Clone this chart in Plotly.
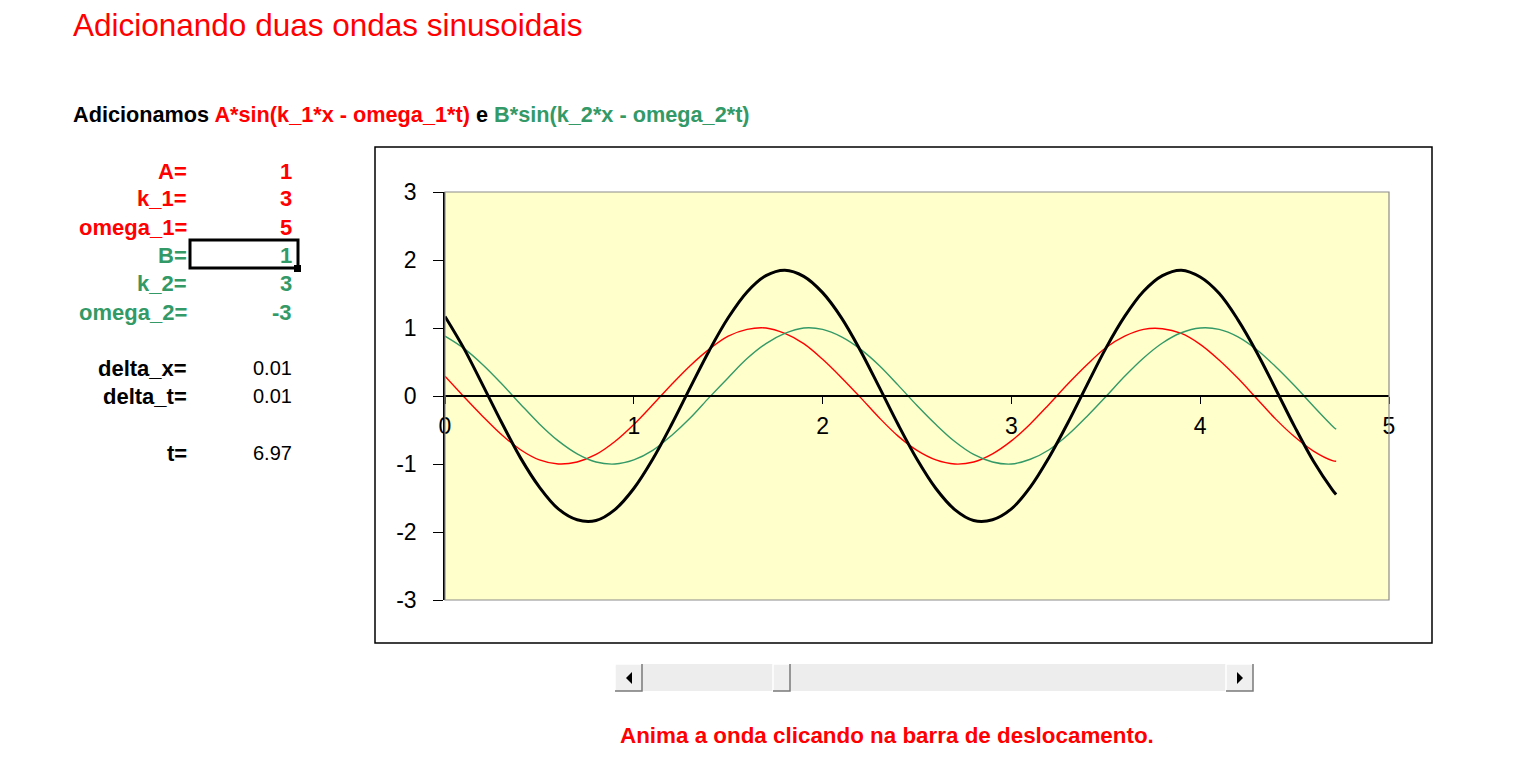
import plotly.graph_objects as go

# ---------------- data ----------------
x_vals = [0.0, 0.1, 0.2, 0.3, 0.4, 0.5, 0.6, 0.7, 0.8, 0.9,
          1.0, 1.1, 1.2, 1.3, 1.4, 1.5, 1.6, 1.7, 1.8, 1.9,
          2.0, 2.1, 2.2, 2.3, 2.4, 2.5, 2.6, 2.7, 2.8, 2.9,
          3.0, 3.1, 3.2, 3.3, 3.4, 3.5, 3.6, 3.7, 3.8, 3.9,
          4.0, 4.1, 4.2, 4.3, 4.4, 4.5, 4.6, 4.7, 4.72]

wave_1 = [0.29, -0.01, -0.30, -0.57, -0.79, -0.94, -1.00, -0.97, -0.86, -0.67,
          -0.42, -0.13, 0.17, 0.45, 0.69, 0.88, 0.98, 1.00, 0.92, 0.77,
          0.54, 0.27, -0.02, -0.32, -0.59, -0.80, -0.94, -1.00, -0.97, -0.85,
          -0.66, -0.41, -0.12, 0.18, 0.46, 0.71, 0.88, 0.98, 0.99, 0.92,
          0.76, 0.53, 0.26, -0.04, -0.34, -0.60, -0.81, -0.95, -0.96]

wave_2 = [0.88, 0.70, 0.46, 0.18, -0.12, -0.41, -0.66, -0.85, -0.97, -1.00,
          -0.94, -0.80, -0.58, -0.32, -0.02, 0.27, 0.55, 0.77, 0.92, 1.00,
          0.98, 0.87, 0.69, 0.45, 0.16, -0.14, -0.42, -0.67, -0.86, -0.97,
          -1.00, -0.93, -0.79, -0.57, -0.30, -0.01, 0.29, 0.56, 0.78, 0.93,
          1.00, 0.98, 0.87, 0.68, 0.43, 0.15, -0.15, -0.44, -0.49]

wave_sum = [1.17, 0.70, 0.16, -0.39, -0.91, -1.34, -1.66, -1.82, -1.83, -1.67,
            -1.36, -0.93, -0.42, 0.13, 0.67, 1.15, 1.53, 1.77, 1.85, 1.76,
            1.52, 1.15, 0.67, 0.13, -0.42, -0.93, -1.36, -1.67, -1.83, -1.82,
            -1.66, -1.34, -0.90, -0.39, 0.16, 0.70, 1.17, 1.54, 1.77, 1.85,
            1.75, 1.51, 1.12, 0.64, 0.10, -0.45, -0.96, -1.38, -1.45]

x_ticks = [0, 1, 2, 3, 4, 5]
x_tick_labels = ["0", "1", "2", "3", "4", "5"]
y_ticks = [-3, -2, -1, 0, 1, 2, 3]
y_tick_labels = ["-3", "-2", "-1", "0", "1", "2", "3"]

param_labels_1 = ["A=", "k_1=", "omega_1="]
param_values_1 = ["1", "3", "5"]
param_labels_2 = ["B=", "k_2=", "omega_2="]
param_values_2 = ["1", "3", "-3"]
step_labels = ["delta_x=", "delta_t=", "t="]
step_values = ["0.01", "0.01", "6.97"]

# ---------------- styling ----------------
# page has an 8px body margin, so the figure is 1520x752 and sits at (8, 8)
OFF = 8
W, H = 1536 - 2 * OFF, 768 - 2 * OFF
RED = "#FF0000"
GREEN = "#339966"
FONT = "Arial, Liberation Sans, sans-serif"


def px(x):
    return (x - OFF) / W


def py(y):
    return 1 - (y - OFF) / H


fig = go.Figure()
fig.add_trace(go.Scatter(x=x_vals, y=wave_1, mode="lines", line=dict(color=RED, width=1.4, shape="spline"),
                         showlegend=False, hoverinfo="skip"))
fig.add_trace(go.Scatter(x=x_vals, y=wave_2, mode="lines", line=dict(color=GREEN, width=1.4, shape="spline"),
                         showlegend=False, hoverinfo="skip"))
fig.add_trace(go.Scatter(x=x_vals, y=wave_sum, mode="lines", line=dict(color="black", width=3, shape="spline"),
                         showlegend=False, hoverinfo="skip"))

plot_l, plot_r, plot_t, plot_b = 445, 1389, 192, 600
zero_y = (plot_t + plot_b) / 2

fig.update_layout(
    template="none",
    width=W, height=H,
    margin=dict(l=0, r=0, t=0, b=0, pad=0),
    showlegend=False,
    paper_bgcolor="white",
    plot_bgcolor="#FFFFCC",
    font=dict(family=FONT, color="black"),
    xaxis=dict(domain=[px(plot_l), px(plot_r)], range=[0, 5], tickvals=x_ticks, ticktext=x_tick_labels,
               automargin=False,
               showgrid=False, zeroline=False, showline=True, linecolor="black", linewidth=1.5,
               ticks="outside", ticklen=7, tickwidth=1.2, tickcolor="black", ticklabelstandoff=3,
               anchor="free", position=py(zero_y), tickfont=dict(size=23, family=FONT, color="black")),
    yaxis=dict(domain=[py(plot_b), py(plot_t)], range=[-3, 3], tickvals=y_ticks, ticktext=y_tick_labels,
               automargin=False,
               showgrid=False, zeroline=False, showline=True, linecolor="black", linewidth=1.5,
               ticks="outside", ticklen=10, tickwidth=1.2, tickcolor="black",
               ticklabelstandoff=12, tickfont=dict(size=23, family=FONT, color="black")),
)

shapes = []
# plot area border (gray)
shapes.append(dict(type="rect", xref="paper", yref="paper", x0=px(plot_l), x1=px(plot_r),
                   y0=py(plot_b), y1=py(plot_t), line=dict(color="#8C8C8C", width=1.2), layer="above"))
# chart outer border
shapes.append(dict(type="rect", xref="paper", yref="paper", x0=px(375), x1=px(1432),
                   y0=py(643), y1=py(147), line=dict(color="black", width=1.5), layer="above"))
# selected cell box
shapes.append(dict(type="rect", xref="paper", yref="paper", x0=px(190), x1=px(298),
                   y0=py(268), y1=py(240), line=dict(color="black", width=3)))
shapes.append(dict(type="rect", xref="paper", yref="paper", x0=px(294), x1=px(301),
                   y0=py(272), y1=py(265), line=dict(width=0), fillcolor="black"))

# scrollbar
sb_t, sb_b = 664, 691
shapes.append(dict(type="rect", xref="paper", yref="paper", x0=px(615), x1=px(1253),
                   y0=py(sb_b), y1=py(sb_t), line=dict(width=0), fillcolor="#EDEDED"))


def button(x0, x1):
    out = []
    out.append(dict(type="rect", xref="paper", yref="paper", x0=px(x0), x1=px(x1),
                    y0=py(sb_b), y1=py(sb_t), line=dict(width=0), fillcolor="#EFEFEF"))
    out.append(dict(type="path", xref="paper", yref="paper",
                    path=f"M {px(x0)} {py(sb_b)} L {px(x0)} {py(sb_t)} L {px(x1)} {py(sb_t)}",
                    line=dict(color="#FFFFFF", width=1.5)))
    out.append(dict(type="path", xref="paper", yref="paper",
                    path=f"M {px(x0)} {py(sb_b)} L {px(x1)} {py(sb_b)} L {px(x1)} {py(sb_t)}",
                    line=dict(color="#7A7A7A", width=1.5)))
    return out


shapes += button(615, 642)
shapes += button(773, 790)
shapes += button(1226, 1253)
shapes.append(dict(type="path", xref="paper", yref="paper",
                   path=f"M {px(626)} {py(678)} L {px(632)} {py(672)} L {px(632)} {py(684)} Z",
                   line=dict(width=0), fillcolor="black"))
shapes.append(dict(type="path", xref="paper", yref="paper",
                   path=f"M {px(1243)} {py(678)} L {px(1237)} {py(672)} L {px(1237)} {py(684)} Z",
                   line=dict(width=0), fillcolor="black"))

annotations = []


def txt(x, y, text, color="black", size=22, bold=False, xanchor="left"):
    t = f"<b>{text}</b>" if bold else text
    annotations.append(dict(x=px(x), y=py(y), xref="paper", yref="paper", text=t, showarrow=False,
                            xanchor=xanchor, yanchor="middle",
                            font=dict(family=FONT, size=size, color=color)))


txt(71, 25, "Adicionando duas ondas sinusoidais", RED, size=31.5)
sub = ("Adicionamos "
       f"<span style='color:{RED}'>A*sin(k_1*x - omega_1*t)</span>"
       " e "
       f"<span style='color:{GREEN}'>B*sin(k_2*x - omega_2*t)</span>")
txt(71, 115, sub, "black", size=21.7, bold=True)

row_y = [171, 199, 227, 255, 283, 312]
for i in range(3):
    txt(189, row_y[i], param_labels_1[i], RED, bold=True, xanchor="right")
    txt(294, row_y[i], param_values_1[i], RED, bold=True, xanchor="right")
for i in range(3):
    txt(189, row_y[3 + i], param_labels_2[i], GREEN, bold=True, xanchor="right")
    txt(294, row_y[3 + i], param_values_2[i], GREEN, bold=True, xanchor="right")

step_y = [368, 396, 453]
for i in range(3):
    txt(189, step_y[i], step_labels[i], "black", bold=True, xanchor="right")
    txt(294, step_y[i], step_values[i], "black", size=20, bold=False, xanchor="right")

txt(618, 735, "Anima a onda clicando na barra de deslocamento.", RED, size=22.4, bold=True)

fig.update_layout(shapes=shapes, annotations=annotations)
fig.write_html("out.html", config={"displayModeBar": False})
